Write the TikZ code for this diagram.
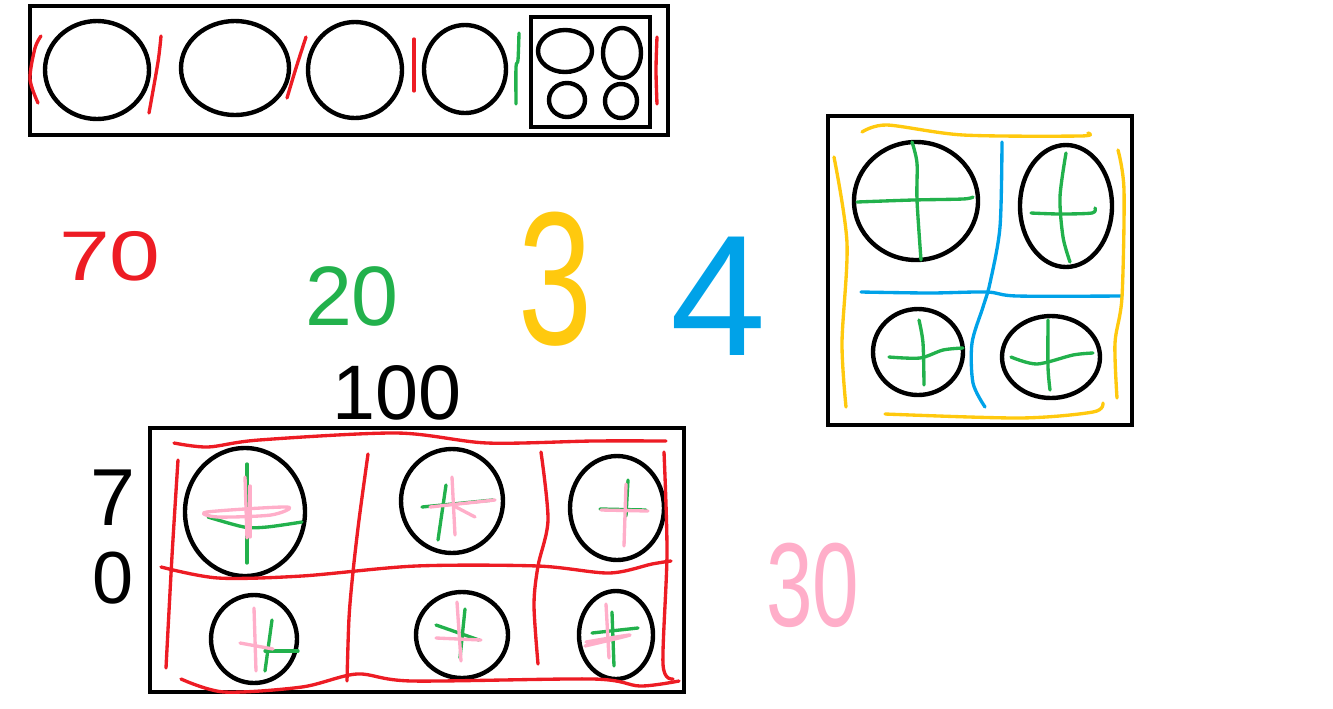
\documentclass[tikz,border=0pt]{standalone}
\usepackage{fontspec}
\setmainfont{Liberation Sans}
\usetikzlibrary{positioning}
\definecolor{pred}{HTML}{ED1C24}
\definecolor{pgreen}{HTML}{22B14C}
\definecolor{pyellow}{HTML}{FFC90E}
\definecolor{pblue}{HTML}{00A2E8}
\definecolor{ppink}{HTML}{FFAEC9}

\begin{document}
\begin{tikzpicture}[x=0.02cm,y=-0.02cm,
frame/.style={draw,line width=2.7pt},
blob/.style={draw,line width=2.5pt},
pen/.style={line width=1.9pt,line cap=round,line join=round},
num/.style={inner sep=0pt,font=\fontsize{#1}{#1}\selectfont}]
\useasboundingbox (0,0) rectangle (1333,708);

% top strip
\draw[frame] (30,6) rectangle (668,135);
\draw[frame] (531,17) rectangle (650,127);
\draw[blob] (97,70) ellipse [x radius=52, y radius=49];
\draw[blob] (235,68) ellipse [x radius=54, y radius=47];
\draw[blob] (355,70) ellipse [x radius=47, y radius=48];
\draw[blob] (465,69) ellipse [x radius=41, y radius=44];
\draw[blob] (565,51) ellipse [x radius=27, y radius=21];
\draw[blob] (622,53) ellipse [x radius=19, y radius=25];
\draw[blob] (567,100) ellipse [x radius=18, y radius=17];
\draw[blob] (621,101) ellipse [x radius=16, y radius=17];
\draw[pen,pred] plot[smooth] coordinates {(41,36) (35,48) (30,79) (38,103)};
\draw[pen,pred] plot[smooth] coordinates {(161,36) (158,62) (149,113)};
\draw[pen,pred] plot[smooth] coordinates {(306,37) (296,68) (287,98)};
\draw[pen,pred] (414,39) -- (414,91);
\draw[pen,pgreen] plot[smooth] coordinates {(519,33) (518,60) (516,67) (516,104)};
\draw[pen,pred] plot[smooth] coordinates {(657,37) (656,70) (657,104)};

% right square
\draw[frame] (828,116) rectangle (1132,425);
\draw[blob] (916,201) ellipse [x radius=62, y radius=59];
\draw[blob] (1066,206) ellipse [x radius=46, y radius=61];
\draw[blob] (918,352) ellipse [x radius=45, y radius=43];
\draw[blob] (1051,357) ellipse [x radius=49, y radius=41];
\draw[pen,pgreen] plot[smooth] coordinates {(912,142) (917,163) (917,200) (921,260)};
\draw[pen,pgreen] plot[smooth] coordinates {(857,202) (913,200) (963,199) (973,197)};
\draw[pen,pgreen] plot[smooth] coordinates {(1066,153) (1060,197) (1063,237) (1070,262)};
\draw[pen,pgreen] plot[smooth] coordinates {(1031,213) (1060,214) (1092,213) (1095,208)};
\draw[pen,pgreen] plot[smooth] coordinates {(919,320) (923,343) (924,385)};
\draw[pen,pgreen] plot[smooth] coordinates {(889,357) (920,358) (943,350) (963,348)};
\draw[pen,pgreen] plot[smooth] coordinates {(1048,320) (1048,367) (1050,390)};
\draw[pen,pgreen] plot[smooth] coordinates {(1011,357) (1037,364) (1073,355) (1093,353)};
\draw[pen,pblue] plot[smooth] coordinates {(1002,142) (1000,227) (990,283) (983,307) (972,343) (973,383) (985,407)};
\draw[pen,pblue] plot[smooth] coordinates {(861,292) (930,293) (987,292) (1017,296) (1122,296)};
\draw[pen,pyellow] plot[smooth] coordinates {(862,132) (887,125) (963,135) (1080,136) (1088,133)};
\draw[pen,pyellow] plot[smooth] coordinates {(834,157) (847,243) (842,343) (846,407)};
\draw[pen,pyellow] plot[smooth] coordinates {(1118,150) (1124,190) (1122,297) (1115,343) (1117,398)};
\draw[pen,pyellow] plot[smooth] coordinates {(885,414) (1020,418) (1093,412) (1103,403)};

% bottom tray
\draw[frame] (150,428) rectangle (684,692);
\draw[blob] (245,512) ellipse [x radius=60, y radius=64];
\draw[blob] (452,501) ellipse [x radius=51, y radius=52];
\draw[blob] (617,508) ellipse [x radius=47, y radius=52];
\draw[blob] (254,639) ellipse [x radius=43, y radius=44];
\draw[blob] (462,635) ellipse [x radius=46, y radius=43];
\draw[blob] (616,635) ellipse [x radius=37, y radius=44];
\draw[pen,pred] plot[smooth] coordinates {(174,443) (208,447) (259,440) (397,433) (487,443) (593,441) (666,441)};
\draw[pen,pred] plot[smooth] coordinates {(161,567) (218,578) (302,576) (416,566) (538,566) (609,573) (652,564) (671,561)};
\draw[pen,pred] plot[smooth] coordinates {(181,679) (224,692) (302,687) (357,674) (412,681) (593,679) (640,686) (679,681)};
\draw[pen,pred] plot[smooth] coordinates {(178,460) (172,556) (166,668)};
\draw[pen,pred] plot[smooth] coordinates {(368,454) (359,520) (353,572) (349,618) (347,681)};
\draw[pen,pred] plot[smooth] coordinates {(541,452) (548,520) (538,566) (534,605) (538,664)};
\draw[pen,pred] plot[smooth] coordinates {(664,452) (667,553) (663,664) (673,679)};
\draw[pen,pgreen] (247,464) -- (247,563);
\draw[pen,pgreen] plot[smooth] coordinates {(208,517) (244,527) (267,527) (302,522)};
\draw[pen,pgreen] (446,485) -- (438,540);
\draw[pen,pgreen] (422,507) -- (493,500);
\draw[pen,pgreen] (628,480) -- (626,516);
\draw[pen,pgreen] (600,509) -- (646,510);
\draw[pen,pgreen] (272,620) -- (265,671);
\draw[pen,pgreen] (265,651) -- (298,651);
\draw[pen,pgreen] (465,609) -- (460,658);
\draw[pen,pgreen] (436,625) -- (479,640);
\draw[pen,pgreen] (612,612) -- (614,666);
\draw[pen,pgreen] (592,633) -- (638,628);
\draw[pen,ppink] (245,477) -- (247,538);
\draw[pen,ppink] (250,486) -- (250,537);
\draw[pen,ppink] plot[smooth cycle] coordinates {(207,512) (287,507) (271,515) (218,517)};
\draw[pen,ppink] (452,477) -- (455,535);
\draw[pen,ppink] (430,507) -- (495,500);
\draw[pen,ppink] (456,507) -- (475,517);
\draw[pen,ppink] (626,484) -- (624,546);
\draw[pen,ppink] (601,510) -- (648,511);
\draw[pen,ppink] (254,608) -- (256,671);
\draw[pen,ppink] (240,643) -- (273,649);
\draw[pen,ppink] (457,602) -- (461,661);
\draw[pen,ppink] (436,638) -- (481,640);
\draw[pen,ppink] (606,604) -- (609,658);
\draw[pen,ppink] plot[smooth] coordinates {(585,646) (630,635) (586,642)};

% numbers
\node (seventy) [num=40pt,text=pred,xscale=1.3] at (110,256) {70};
\node (twenty) [num=48pt,text=pgreen] at (352,296) {20};
\node (three) [num=108pt,text=pyellow,xscale=0.7] at (555,279) {3};
\node (four) [num=98pt,text=pblue] at (718,296) {4};
\node (hundred) [num=44pt] at (397,393) {100};
\node (seven) [num=46pt] at (113,498) {7};
\node (zero) [num=42pt,below=0.5cm of seven] {0};
\node (thirty) [num=68pt,text=ppink,xscale=0.7] at (813,585) {30};
\end{tikzpicture}
\end{document}
